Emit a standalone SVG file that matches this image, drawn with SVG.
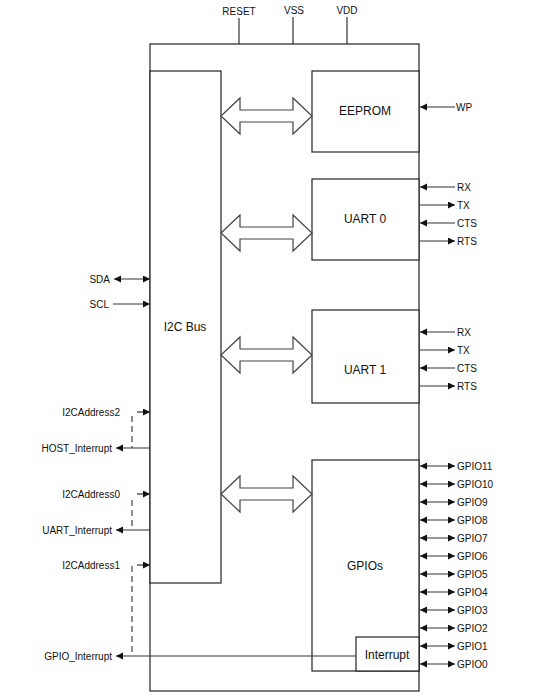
<svg xmlns="http://www.w3.org/2000/svg" width="554" height="696" viewBox="0 0 554 696">
<style>
.box{fill:#fff;stroke:#222;stroke-width:1.2}
.ln{stroke:#333;stroke-width:1.2;fill:none}
.dash{stroke:#444;stroke-width:1.2;fill:none;stroke-dasharray:6,4}
.bus{fill:#fff;stroke:#444;stroke-width:1.2}
.t{font-family:"Liberation Sans",Arial,sans-serif;font-size:10px;fill:#111}
.tb{font-family:"Liberation Sans",Arial,sans-serif;font-size:12px;fill:#111;text-anchor:middle}
.e{text-anchor:end}
.m{text-anchor:middle}
</style>
<defs>
<marker id="ah" markerUnits="userSpaceOnUse" markerWidth="8" markerHeight="8" refX="7" refY="3.5" orient="auto-start-reverse">
<path d="M0,0 L7,3.5 L0,7 z" fill="#111"/>
</marker>
</defs>
<rect width="554" height="696" fill="#fff"/>
<g id="chip"><rect class="box" x="150" y="44" width="269" height="647"/></g>
<g id="i2cbus"><rect class="box" x="150" y="71" width="71" height="512"/><text class="tb" x="185" y="331">I2C Bus</text></g>
<g id="eeprom"><rect class="box" x="312" y="71" width="107" height="81"/><text class="tb" x="365" y="115">EEPROM</text></g>
<g id="uart0"><rect class="box" x="312" y="179" width="107" height="81"/><text class="tb" x="365" y="223">UART 0</text></g>
<g id="uart1"><rect class="box" x="312" y="310" width="107" height="93"/><text class="tb" x="365" y="374">UART 1</text></g>
<g id="gpios"><rect class="box" x="312" y="460" width="107" height="211"/><text class="tb" x="365" y="570">GPIOs</text></g>
<g id="interrupt"><rect class="box" x="356" y="637" width="63" height="34"/><text class="tb" x="387" y="659">Interrupt</text></g>
<g id="connectors">
<polygon class="bus" points="221,116 240,98 240,110 293,110 293,98 312,116 293,134 293,122 240,122 240,134"/>
<polygon class="bus" points="221,233 240,215 240,227 293,227 293,215 312,233 293,251 293,239 240,239 240,251"/>
<polygon class="bus" points="221,355 240,337 240,349 293,349 293,337 312,355 293,373 293,361 240,361 240,373"/>
<polygon class="bus" points="221,494 240,476 240,488 293,488 293,476 312,494 293,512 293,500 240,500 240,512"/>
<line class="ln" x1="239" y1="18" x2="239" y2="44"/>
<line class="ln" x1="293" y1="17" x2="293" y2="44"/>
<line class="ln" x1="347" y1="17" x2="347" y2="44"/>
<line class="ln" x1="455" y1="107" x2="420" y2="107" marker-end="url(#ah)"/>
<line class="ln" x1="455" y1="187" x2="420" y2="187" marker-end="url(#ah)"/>
<line class="ln" x1="420" y1="205" x2="455" y2="205" marker-end="url(#ah)"/>
<line class="ln" x1="455" y1="223" x2="420" y2="223" marker-end="url(#ah)"/>
<line class="ln" x1="420" y1="241" x2="455" y2="241" marker-end="url(#ah)"/>
<line class="ln" x1="455" y1="332" x2="420" y2="332" marker-end="url(#ah)"/>
<line class="ln" x1="420" y1="350" x2="455" y2="350" marker-end="url(#ah)"/>
<line class="ln" x1="455" y1="368" x2="420" y2="368" marker-end="url(#ah)"/>
<line class="ln" x1="420" y1="386" x2="455" y2="386" marker-end="url(#ah)"/>
<line class="ln" x1="420" y1="466" x2="455" y2="466" marker-start="url(#ah)" marker-end="url(#ah)"/>
<line class="ln" x1="420" y1="484" x2="455" y2="484" marker-start="url(#ah)" marker-end="url(#ah)"/>
<line class="ln" x1="420" y1="502" x2="455" y2="502" marker-start="url(#ah)" marker-end="url(#ah)"/>
<line class="ln" x1="420" y1="520" x2="455" y2="520" marker-start="url(#ah)" marker-end="url(#ah)"/>
<line class="ln" x1="420" y1="538" x2="455" y2="538" marker-start="url(#ah)" marker-end="url(#ah)"/>
<line class="ln" x1="420" y1="556" x2="455" y2="556" marker-start="url(#ah)" marker-end="url(#ah)"/>
<line class="ln" x1="420" y1="574" x2="455" y2="574" marker-start="url(#ah)" marker-end="url(#ah)"/>
<line class="ln" x1="420" y1="592" x2="455" y2="592" marker-start="url(#ah)" marker-end="url(#ah)"/>
<line class="ln" x1="420" y1="610" x2="455" y2="610" marker-start="url(#ah)" marker-end="url(#ah)"/>
<line class="ln" x1="420" y1="628" x2="455" y2="628" marker-start="url(#ah)" marker-end="url(#ah)"/>
<line class="ln" x1="420" y1="646" x2="455" y2="646" marker-start="url(#ah)" marker-end="url(#ah)"/>
<line class="ln" x1="420" y1="664" x2="455" y2="664" marker-start="url(#ah)" marker-end="url(#ah)"/>
<line class="ln" x1="114" y1="279" x2="150" y2="279" marker-start="url(#ah)" marker-end="url(#ah)"/>
<line class="ln" x1="113" y1="304" x2="150" y2="304" marker-end="url(#ah)"/>
<line class="ln" x1="137" y1="412" x2="150" y2="412" marker-end="url(#ah)"/>
<line class="ln" x1="150" y1="448" x2="116" y2="448" marker-end="url(#ah)"/>
<path class="dash" d="M132,416 V448"/>
<line class="ln" x1="137" y1="494" x2="150" y2="494" marker-end="url(#ah)"/>
<line class="ln" x1="150" y1="530" x2="116" y2="530" marker-end="url(#ah)"/>
<path class="dash" d="M132,500 V530"/>
<line class="ln" x1="137" y1="565" x2="150" y2="565" marker-end="url(#ah)"/>
<line class="ln" x1="356" y1="656" x2="116" y2="656" marker-end="url(#ah)"/>
<path class="dash" d="M132,566 V656"/>
</g>
<g id="labels">
<text class="t m" x="239" y="15">RESET</text>
<text class="t m" x="294" y="14">VSS</text>
<text class="t m" x="347" y="14">VDD</text>
<text class="t" x="456" y="111">WP</text>
<text class="t" x="457" y="191">RX</text>
<text class="t" x="457" y="209">TX</text>
<text class="t" x="457" y="227">CTS</text>
<text class="t" x="457" y="245">RTS</text>
<text class="t" x="457" y="336">RX</text>
<text class="t" x="457" y="354">TX</text>
<text class="t" x="457" y="372">CTS</text>
<text class="t" x="457" y="390">RTS</text>
<text class="t" x="457" y="470">GPIO11</text>
<text class="t" x="457" y="488">GPIO10</text>
<text class="t" x="457" y="506">GPIO9</text>
<text class="t" x="457" y="524">GPIO8</text>
<text class="t" x="457" y="542">GPIO7</text>
<text class="t" x="457" y="560">GPIO6</text>
<text class="t" x="457" y="578">GPIO5</text>
<text class="t" x="457" y="596">GPIO4</text>
<text class="t" x="457" y="614">GPIO3</text>
<text class="t" x="457" y="632">GPIO2</text>
<text class="t" x="457" y="650">GPIO1</text>
<text class="t" x="457" y="668">GPIO0</text>
<text class="t e" x="110" y="283">SDA</text>
<text class="t e" x="109" y="308">SCL</text>
<text class="t e" x="120" y="416">I2CAddress2</text>
<text class="t e" x="112" y="452">HOST_Interrupt</text>
<text class="t e" x="120" y="498">I2CAddress0</text>
<text class="t e" x="112" y="534">UART_Interrupt</text>
<text class="t e" x="120" y="569">I2CAddress1</text>
<text class="t e" x="112" y="660">GPIO_Interrupt</text>
</g>
</svg>
